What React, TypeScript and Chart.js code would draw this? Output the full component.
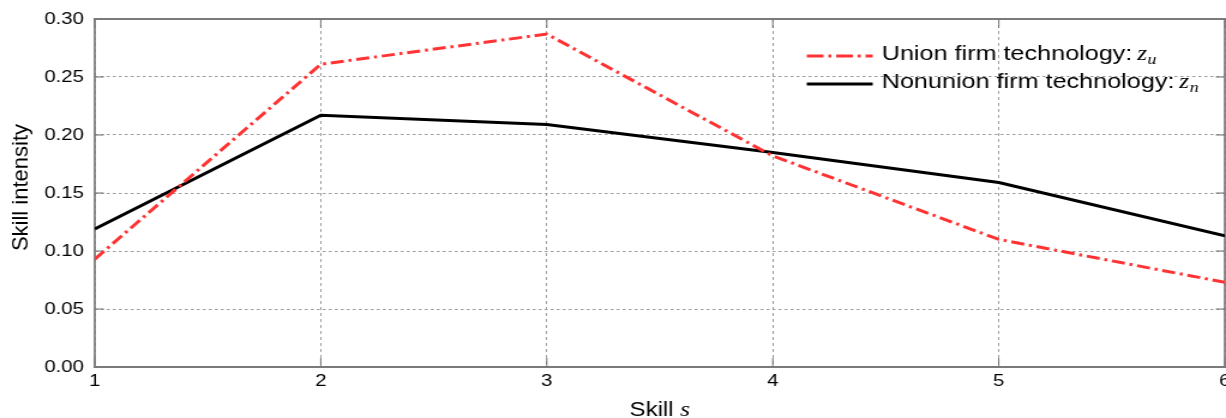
import React, { useEffect, useRef } from "react";
import { Chart, registerables } from "chart.js";

Chart.register(...registerables);

// ---- data ----
const skillLevels = [1, 2, 3, 4, 5, 6];
const unionValues = [0.093, 0.261, 0.287, 0.182, 0.110, 0.073];
const nonunionValues = [0.119, 0.217, 0.209, 0.185, 0.159, 0.113];
const xTickValues = [1, 2, 3, 4, 5, 6];
const yTickValues = [0, 0.05, 0.1, 0.15, 0.2, 0.25, 0.3];
const unionLabel = "Union firm technology:";
const nonunionLabel = "Nonunion firm technology:";
const xTitle = "Skill";
const yTitle = "Skill intensity";

// ---- layout ----
const CSS_W = 1226;
const CSS_H = 418;
const SX = 1.2; // horizontal stretch of the rendering
const W = Math.round(CSS_W / SX);
const H = CSS_H;
const SANS = "'Liberation Sans', Arial, Helvetica, sans-serif";
const SERIF = "'Liberation Serif', 'DejaVu Serif', serif";
const RED = "#ff3333";

const cx = (v: number) => v / SX;

const decorPlugin = {
  id: "decor",
  beforeDatasetsDraw(chart: any) {
    const { ctx, chartArea } = chart;
    const { left, right, top, bottom } = chartArea;
    const xs = chart.scales.x;
    const ys = chart.scales.y;
    ctx.save();
    ctx.setLineDash([]);
    // inward tick marks
    ctx.strokeStyle = "#6e6e6e";
    ctx.lineWidth = 1;
    xs.ticks.forEach((t: any) => {
      const px = xs.getPixelForValue(t.value);
      ctx.beginPath();
      ctx.moveTo(px, bottom);
      ctx.lineTo(px, bottom - 9);
      ctx.moveTo(px, top);
      ctx.lineTo(px, top + 9);
      ctx.stroke();
    });
    ctx.lineWidth = 1.2;
    ys.ticks.forEach((t: any) => {
      const py = ys.getPixelForValue(t.value);
      ctx.beginPath();
      ctx.moveTo(left, py);
      ctx.lineTo(left + 7.5, py);
      ctx.moveTo(right, py);
      ctx.lineTo(right - 7.5, py);
      ctx.stroke();
    });
    // frame
    ctx.strokeStyle = "#7a7a7a";
    ctx.lineWidth = 2;
    ctx.beginPath();
    ctx.moveTo(left - 1, top);
    ctx.lineTo(right + 1, top);
    ctx.moveTo(left - 1, bottom);
    ctx.lineTo(right + 1, bottom);
    ctx.stroke();
    ctx.lineWidth = 1.7;
    ctx.beginPath();
    ctx.moveTo(left, top);
    ctx.lineTo(left, bottom);
    ctx.moveTo(right, top);
    ctx.lineTo(right, bottom);
    ctx.stroke();
    ctx.restore();
  },
  afterDraw(chart: any) {
    const { ctx, chartArea } = chart;
    ctx.save();
    ctx.setLineDash([]);
    ctx.fillStyle = "#000";
    ctx.textBaseline = "alphabetic";
    ctx.textAlign = "left";

    // legend
    const drawEntry = (
      y: number,
      label: string,
      sub: string,
      color: string,
      dash: number[]
    ) => {
      ctx.save();
      ctx.strokeStyle = color;
      ctx.lineWidth = 3;
      ctx.setLineDash(dash);
      ctx.beginPath();
      ctx.moveTo(cx(807), y - 4);
      ctx.lineTo(cx(873), y - 4);
      ctx.stroke();
      ctx.restore();
      ctx.font = `21px ${SANS}`;
      const tx = cx(882);
      ctx.fillText(label, tx, y);
      const w = ctx.measureText(label).width;
      ctx.font = `italic 21px ${SERIF}`;
      const zx = tx + w + 4;
      ctx.fillText("z", zx, y);
      const zw = ctx.measureText("z").width;
      ctx.font = `italic 15px ${SERIF}`;
      ctx.fillText(sub, zx + zw + 0.5, y + 4);
    };
    drawEntry(60, unionLabel, "u", RED, [14, 4, 2.5, 4]);
    drawEntry(88, nonunionLabel, "n", "#000", []);

    // x title
    const midX = (chartArea.left + chartArea.right) / 2;
    ctx.font = `20px ${SANS}`;
    const w1 = ctx.measureText(xTitle + " ").width;
    ctx.font = `italic 21px ${SERIF}`;
    const w2 = ctx.measureText("s").width;
    const sx0 = midX - (w1 + w2) / 2;
    ctx.font = `20px ${SANS}`;
    ctx.fillText(xTitle + " ", sx0, 416);
    ctx.font = `italic 21px ${SERIF}`;
    ctx.fillText("s", sx0 + w1, 416);

    // y title
    ctx.save();
    ctx.translate(cx(27), 187.5);
    ctx.scale(1 / SX, 1);
    ctx.rotate(-Math.PI / 2);
    ctx.font = `22px ${SANS}`;
    ctx.textAlign = "center";
    ctx.fillText(yTitle, 0, 0);
    ctx.restore();

    ctx.restore();
  },
};

export default function App() {
  const ref = useRef<HTMLCanvasElement | null>(null);

  useEffect(() => {
    document.body.style.margin = "0";
    const canvas = ref.current;
    if (!canvas) return;
    const chart = new Chart(canvas, {
      type: "line",
      data: {
        datasets: [
          {
            label: unionLabel,
            data: skillLevels.map((s, i) => ({ x: s, y: unionValues[i] })),
            borderColor: RED,
            backgroundColor: RED,
            borderWidth: 3,
            borderDash: [11, 4, 2.5, 4],
            pointRadius: 0,
            tension: 0,
            fill: false,
          },
          {
            label: nonunionLabel,
            data: skillLevels.map((s, i) => ({ x: s, y: nonunionValues[i] })),
            borderColor: "#000",
            backgroundColor: "#000",
            borderWidth: 3,
            pointRadius: 0,
            tension: 0,
            fill: false,
          },
        ],
      },
      options: {
        responsive: false,
        animation: false,
        devicePixelRatio: 1,
        events: [],
        layout: { padding: { top: 19, right: 1, left: 0, bottom: 0 } },
        plugins: {
          legend: { display: false },
          tooltip: { enabled: false },
          title: { display: false },
        },
        scales: {
          x: {
            type: "linear",
            min: 1,
            max: 6,
            afterBuildTicks: (scale: any) => {
              scale.ticks = xTickValues.map((v) => ({ value: v }));
            },
            afterFit: (scale: any) => {
              scale.height = 51;
              scale.paddingLeft = 0;
              scale.paddingRight = 0;
            },
            ticks: {
              autoSkip: false,
              maxRotation: 0,
              padding: 4,
              color: "#000",
              font: { family: SANS, size: 17 },
              callback: (v: any) => String(v),
            },
            grid: {
              color: "#9a9a9a",
              lineWidth: 1,
              drawTicks: false,
            },
            border: { display: false, dash: [3, 3] },
          },
          y: {
            type: "linear",
            min: 0,
            max: 0.3,
            afterBuildTicks: (scale: any) => {
              scale.ticks = yTickValues.map((v) => ({ value: v }));
            },
            afterFit: (scale: any) => {
              scale.width = 79;
              scale.paddingTop = 0;
              scale.paddingBottom = 0;
            },
            ticks: {
              padding: 9,
              color: "#000",
              font: { family: SANS, size: 17 },
              callback: (v: any) => Number(v).toFixed(2),
            },
            grid: {
              color: "#9a9a9a",
              lineWidth: 1,
              drawTicks: false,
            },
            border: { display: false, dash: [2.5, 2.5] },
          },
        },
      },
      plugins: [decorPlugin],
    } as any);
    return () => chart.destroy();
  }, []);

  return (
    <canvas
      ref={ref}
      width={W}
      height={H}
      style={{ width: `${CSS_W}px`, height: `${CSS_H}px`, display: "block" }}
    />
  );
}
